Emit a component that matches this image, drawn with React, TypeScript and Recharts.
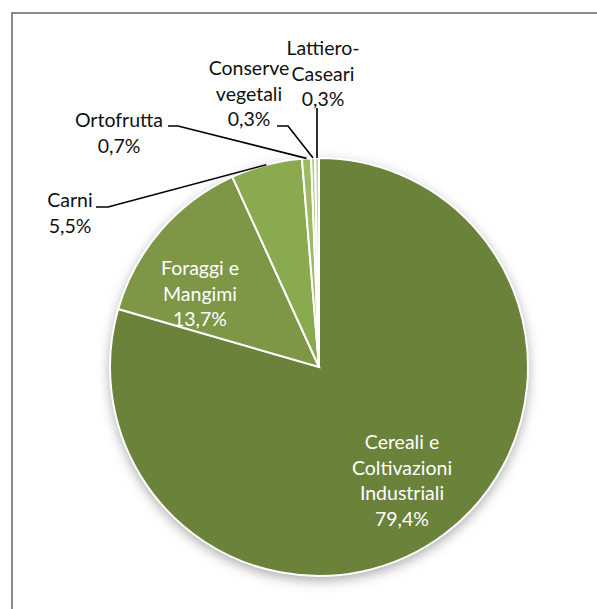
import { Cell, Pie, PieChart } from "recharts";

const categories = [
  "Cereali e Coltivazioni Industriali",
  "Foraggi e Mangimi",
  "Carni",
  "Ortofrutta",
  "Conserve vegetali",
  "Lattiero-Caseari",
];
const shares = [79.4, 13.7, 5.5, 0.7, 0.3, 0.3];
const labelLines = [
  ["Cereali e", "Coltivazioni", "Industriali"],
  ["Foraggi e", "Mangimi"],
  ["Carni"],
  ["Ortofrutta"],
  ["Conserve", "vegetali"],
  ["Lattiero-", "Caseari"],
];

const colors = ["#6b823a", "#7d9746", "#8aaa50", "#9cb963", "#b0c880", "#c3d69c"];

// label placement relative to the pie centre (text centre x, first baseline y, leader start, elbow)
const labelLayout = [
  { inside: true, x: 83, y: 82 },
  { inside: true, x: -119, y: -92 },
  { inside: false, x: -249, y: -160, start: [-223, -160], elbow: [-211, -160] },
  { inside: false, x: -200, y: -240, start: [-151, -241], elbow: [-141, -241] },
  { inside: false, x: -70, y: -292, start: [-42, -241], elbow: [-31, -241] },
  { inside: false, x: 4, y: -312, start: [-2, -259], elbow: [-2, -259] },
];

const data = categories.map((name, i) => ({ name, value: shares[i] }));

const FONT = "Lato, 'Open Sans', sans-serif";
const RAD = Math.PI / 180;
const LINE_H = 25.5;

function fmt(v: number) {
  return v.toFixed(1).replace(".", ",") + "%";
}

function renderLabel(props: any) {
  const { cx, cy, midAngle, outerRadius, index } = props;
  const lay = labelLayout[index];
  const lines = [...labelLines[index], fmt(shares[index])];
  const tx = cx + lay.x;
  const ty = cy + lay.y;
  const text = (
    <text
      x={tx}
      y={ty}
      textAnchor="middle"
      fontFamily={FONT}
      fontSize={19.5}
      fill={lay.inside ? "#ffffff" : "#111111"}
    >
      {lines.map((l, i) => (
        <tspan key={i} x={tx} dy={i === 0 ? 0 : LINE_H}>
          {l}
        </tspan>
      ))}
    </text>
  );
  if (lay.inside) return <g key={`lbl-${index}`}>{text}</g>;
  const ex = cx + outerRadius * Math.cos(-midAngle * RAD);
  const ey = cy + outerRadius * Math.sin(-midAngle * RAD);
  const pts = [
    [cx + lay.start![0], cy + lay.start![1]],
    [cx + lay.elbow![0], cy + lay.elbow![1]],
    [ex, ey],
  ]
    .map((p) => p.join(","))
    .join(" ");
  return (
    <g key={`lbl-${index}`}>
      <polyline points={pts} fill="none" stroke="#000" strokeWidth={1.6} />
      {text}
    </g>
  );
}

export default function App() {
  return (
    <div
      style={{
        position: "absolute",
        left: 0,
        top: 0,
        width: 597,
        height: 609,
        background: "#fff",
        overflow: "hidden",
      }}
    >
      <style>{`.pie-shadow { filter: blur(4px); }`}</style>
      <div
        style={{
          position: "absolute",
          left: 11,
          top: 12,
          width: 600,
          height: 610,
          border: "2px solid #8a8a8a",
        }}
      />
      <div style={{ position: "absolute", left: 0, top: 0 }}>
        <PieChart width={597} height={609} margin={{ top: 0, right: 0, bottom: 0, left: 0 }}>
          <Pie
            className="pie-shadow"
            data={data}
            dataKey="value"
            cx={319}
            cy={371}
            outerRadius={209}
            startAngle={90}
            endAngle={-270}
            fill="#000"
            fillOpacity={0.35}
            stroke="none"
            label={false}
            labelLine={false}
            isAnimationActive={false}
          />
          <Pie
            data={data}
            dataKey="value"
            cx={319}
            cy={367}
            outerRadius={209}
            startAngle={90}
            endAngle={-270}
            stroke="#ffffff"
            strokeWidth={2}
            label={renderLabel}
            labelLine={false}
            isAnimationActive={false}
          >
            {data.map((d, i) => (
              <Cell key={d.name} fill={colors[i]} />
            ))}
          </Pie>
        </PieChart>
      </div>
    </div>
  );
}
